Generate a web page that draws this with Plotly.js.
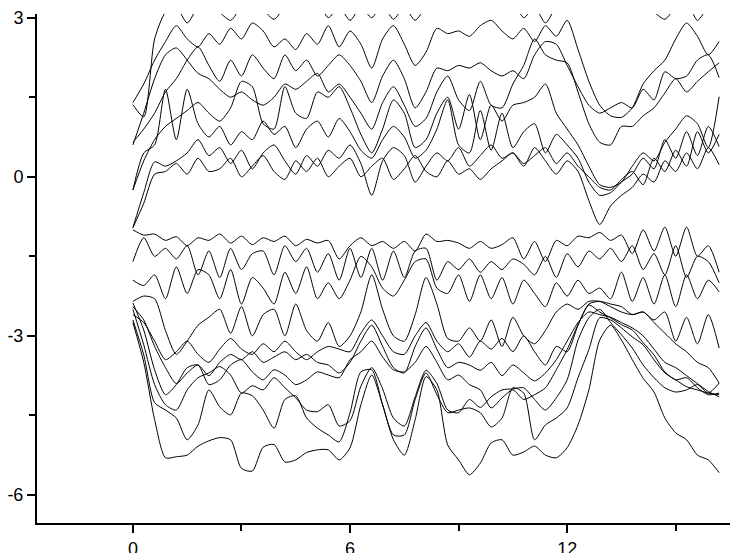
<!DOCTYPE html>
<html>
<head>
<meta charset="utf-8">
<script src="https://cdn.plot.ly/plotly-3.0.1.min.js"></script>
<style>
  html, body { margin: 0; padding: 0; background: white; }
  #chart { width: 755px; height: 553px; }
</style>
</head>
<body>
<div id="chart"></div>
<script>
// ------------------------
// x positions shared by every curve:
var xs = [0,0.3,0.6,0.9,1.2,1.5,1.8,2.1,2.4,2.7,
  3,3.3,3.6,3.9,4.2,4.5,4.8,5.1,5.4,5.7,
  6,6.3,6.6,6.9,7.2,7.5,7.8,8.1,8.4,8.7,
  9,9.3,9.6,9.9,10.2,10.5,10.8,11.1,11.4,11.7,
  12,12.3,12.6,12.9,13.2,13.5,13.8,14.1,14.4,14.7,
  15,15.3,15.6,15.9,16.2];

// ------------------------
// upper bundle of curves:
var u1 = [1.36,1.13,2.6,3.1,3.2,2.9,3.2,3.3,3.1,2.95,
  3.2,3.3,3.15,2.97,3.2,3.3,3.1,3.3,3.0,3.2,
  2.95,3.2,3.0,3.25,2.97,3.2,2.95,3.2,3.3,3.1,
  3.25,3.35,3.2,3.3,3.15,3.3,3.0,3.2,2.9,3.2,
  3.3,3.4,3.5,3.5,3.4,3.4,3.3,3.2,3.1,2.97,
  3.2,3.3,2.95,3.2,3.3];
var u2 = [1.4,1.75,2.2,2.55,2.85,2.6,2.45,2.7,2.5,2.8,
  2.6,2.9,2.75,2.45,2.6,2.4,2.7,2.5,2.85,2.45,
  2.75,2.5,2.05,2.6,2.85,2.5,2.1,2.35,2.8,2.7,
  2.75,2.65,2.85,2.95,2.75,2.6,2.8,2.55,2.85,2.65,
  2.95,2.4,1.8,1.35,1.15,1.12,1.3,1.75,2.0,2.2,
  2.6,2.9,2.65,2.3,2.55];
var u3 = [0.65,0.9,1.2,1.6,1.85,2.2,2.45,2.1,1.8,2.2,
  1.9,2.3,2.05,1.85,2.3,2.0,2.2,1.9,2.1,2.3,
  2.1,1.8,1.4,1.9,2.2,1.85,1.3,1.6,2.05,2.0,
  2.1,2.05,2.15,2.0,1.9,2.0,1.85,2.3,2.55,2.5,
  2.1,1.7,1.35,1.2,1.3,1.4,1.3,1.65,1.45,1.98,
  1.85,1.9,2.2,2.3,1.87];
var u4 = [0.6,1.2,1.85,2.3,2.43,2.2,1.95,1.85,1.65,1.5,
  1.6,1.45,1.35,1.5,1.75,1.65,1.8,1.95,1.6,1.75,
  1.5,1.2,0.9,1.4,1.7,1.35,0.95,1.1,1.6,1.9,
  1.45,1.25,1.8,1.35,1.3,1.75,2.1,2.6,2.3,2.2,
  2.15,1.6,1.0,0.65,0.6,0.95,0.95,1.15,1.3,1.58,
  1.85,1.6,1.8,1.98,2.15];
var u5 = [-0.25,0.3,0.7,0.95,1.1,1.25,1.4,1.2,1.05,1.3,
  1.8,1.7,1.0,0.9,1.7,1.2,1.1,1.6,1.5,1.7,
  1.3,0.8,0.45,0.9,1.45,1.2,0.55,0.7,1.2,1.5,
  0.9,1.55,0.7,1.35,1.05,1.35,1.4,1.5,1.75,1.2,
  0.9,0.6,0.2,-0.15,-0.2,-0.1,0.2,0.45,0.3,0.65,
  0.9,1.15,1.0,0.55,1.51];
var u6 = [-0.25,0.45,0.6,1.65,0.7,1.65,1.0,0.75,0.95,0.6,
  0.85,0.7,1.05,0.8,0.95,0.55,0.9,1.05,0.75,1.1,
  0.85,0.5,0.35,0.7,0.95,0.75,0.35,0.5,0.9,1.45,
  0.6,0.45,1.25,0.5,1.2,0.55,0.85,1.0,0.45,0.8,
  0.6,0.35,-0.1,-0.35,-0.3,-0.1,0.05,0.35,0.15,0.7,
  0.35,0.85,0.4,0.95,0.57];
var u7 = [-0.96,-0.3,0.28,0.2,0.3,0.45,0.7,0.4,0.55,0.25,
  0.5,0.15,0.45,0.6,0.3,0.05,0.4,0.2,0.5,0.35,
  0.6,0.25,-0.35,0.3,0.55,0.4,-0.1,0.2,0.45,0.3,
  0.55,0.2,0.4,0.6,0.35,0.45,0.2,0.55,0.3,0.05,
  0.3,0.1,-0.45,-0.9,-0.55,-0.35,-0.2,0.05,-0.1,0.3,
  0.1,0.45,0.15,0.55,0.23];
var u8 = [-0.96,-0.5,0.05,0.1,0.25,0.05,0.35,0.1,0.15,0.35,
  0.0,0.2,0.4,0.1,-0.05,0.3,0.1,0.35,0.0,0.2,
  0.35,0.0,0.2,0.35,-0.05,0.15,0.4,0.1,0.0,0.3,
  0.05,0.15,-0.05,0.15,0.3,0.45,0.25,0.4,0.55,0.25,
  0.45,0.2,0.0,-0.2,-0.25,-0.05,0.1,-0.15,0.35,0.1,
  0.5,0.2,0.85,0.45,0.8];

// ------------------------
// lower bundle of curves:
var l1 = [-1.0,-1.1,-1.08,-1.2,-1.13,-1.3,-1.15,-1.2,-1.08,-1.25,
  -1.12,-1.28,-1.15,-1.22,-1.12,-1.3,-1.18,-1.25,-1.2,-1.55,
  -1.3,-1.15,-1.3,-1.22,-1.35,-1.22,-1.4,-1.08,-1.22,-1.2,
  -1.25,-1.35,-1.22,-1.35,-1.28,-1.15,-1.55,-1.22,-1.6,-1.2,
  -1.3,-1.12,-1.15,-1.05,-1.2,-1.1,-1.45,-1.0,-1.4,-0.95,
  -1.5,-0.95,-1.5,-1.3,-1.8];
var l2 = [-1.6,-1.15,-1.5,-1.35,-1.55,-1.3,-1.85,-1.4,-1.9,-1.35,
  -1.75,-1.45,-1.4,-1.85,-1.3,-1.6,-1.35,-1.8,-1.45,-1.95,
  -1.35,-1.9,-1.35,-1.95,-1.4,-1.9,-1.4,-1.35,-1.95,-1.6,
  -1.75,-1.55,-1.8,-1.6,-1.75,-1.55,-1.65,-1.85,-1.5,-1.9,
  -1.45,-1.7,-1.4,-1.55,-1.35,-1.6,-1.3,-1.75,-1.45,-1.85,
  -1.3,-1.9,-1.5,-1.6,-2.0];
var l3 = [-1.95,-2.05,-1.85,-2.3,-1.7,-2.2,-1.75,-1.85,-2.3,-1.75,
  -2.4,-1.9,-2.1,-2.4,-1.8,-2.2,-1.7,-2.3,-2.0,-2.3,
  -1.95,-1.5,-1.7,-2.1,-2.25,-1.95,-1.6,-1.55,-2.1,-2.2,
  -1.85,-2.35,-1.85,-2.3,-1.9,-2.4,-1.95,-2.2,-2.45,-2.0,
  -2.25,-1.95,-2.2,-2.1,-2.3,-1.8,-2.35,-1.9,-2.4,-1.85,
  -2.45,-1.85,-2.3,-1.95,-2.17];
var l4 = [-2.35,-2.25,-2.3,-2.9,-3.35,-3.1,-2.8,-2.65,-2.5,-2.95,
  -2.45,-3.0,-2.6,-2.5,-3.0,-2.4,-2.9,-3.1,-2.75,-3.2,
  -3.0,-2.55,-1.85,-2.5,-3.0,-3.1,-2.6,-1.9,-2.4,-3.05,
  -3.1,-2.85,-3.1,-2.7,-3.2,-2.65,-3.0,-3.15,-2.9,-2.55,
  -2.4,-2.5,-2.35,-2.35,-2.45,-2.55,-2.6,-2.55,-2.7,-2.55,
  -3.1,-2.65,-3.15,-2.6,-3.23];
var l5 = [-2.6,-2.75,-3.1,-3.45,-3.3,-3.1,-3.35,-3.5,-3.25,-3.05,
  -3.25,-3.35,-3.15,-3.3,-3.1,-3.3,-3.45,-3.3,-3.2,-3.25,
  -3.3,-2.95,-2.7,-3.0,-3.3,-3.35,-3.0,-2.75,-3.1,-3.3,
  -3.15,-3.4,-3.1,-3.25,-3.05,-3.3,-3.0,-3.3,-3.55,-3.2,
  -3.3,-2.8,-2.4,-2.35,-2.4,-2.45,-2.6,-2.55,-2.75,-2.95,
  -3.15,-3.3,-3.5,-3.6,-3.89];
var l6 = [-2.45,-2.7,-3.2,-3.6,-3.9,-3.7,-3.55,-3.75,-3.5,-3.35,
  -3.45,-3.3,-3.5,-3.4,-3.3,-3.45,-3.35,-3.5,-3.55,-3.7,
  -3.5,-3.1,-2.8,-3.2,-3.6,-3.7,-3.2,-2.85,-3.25,-3.6,
  -3.5,-3.55,-3.65,-3.5,-3.75,-3.55,-3.7,-3.85,-3.7,-3.45,
  -3.1,-2.75,-2.55,-2.6,-2.65,-2.75,-2.85,-3.0,-3.25,-3.5,
  -3.6,-3.75,-3.9,-4.05,-4.15];
var l7 = [-2.38,-2.89,-3.64,-4.11,-3.92,-3.6,-3.55,-3.92,-3.83,-3.55,
  -3.45,-3.68,-3.83,-3.64,-3.74,-3.92,-3.83,-3.68,-3.74,-3.79,
  -3.45,-3.3,-3.1,-3.4,-3.64,-3.68,-3.5,-3.2,-3.5,-3.83,
  -3.74,-3.92,-4.02,-4.36,-4.17,-4.02,-4.2,-4.11,-3.98,-3.64,
  -3.26,-2.79,-2.42,-2.55,-2.66,-2.79,-2.89,-3.13,-3.36,-3.68,
  -3.83,-3.79,-3.98,-4.11,-4.08];
var l8 = [-2.5,-3.17,-3.92,-4.3,-4.4,-4.02,-3.79,-3.7,-3.58,-3.74,
  -4.08,-3.94,-4.02,-3.79,-3.98,-4.17,-4.4,-4.43,-4.3,-4.7,
  -4.6,-3.95,-3.6,-4.0,-4.55,-4.7,-4.15,-3.65,-3.9,-4.4,
  -4.45,-4.2,-4.35,-4.15,-4.02,-4.0,-3.98,-4.2,-4.4,-4.17,
  -3.83,-3.08,-2.66,-2.5,-2.75,-2.98,-3.23,-3.55,-3.79,-3.98,
  -4.06,-4.02,-3.92,-4.08,-3.89];
var l9 = [-2.7,-3.36,-4.26,-4.4,-4.55,-4.96,-4.68,-4.02,-4.34,-4.49,
  -4.08,-4.13,-4.4,-4.74,-4.2,-4.13,-4.55,-4.74,-4.87,-5.0,
  -4.45,-3.68,-3.64,-4.3,-4.87,-4.87,-4.2,-3.7,-4.11,-4.45,
  -4.4,-4.36,-4.45,-4.72,-4.55,-3.98,-4.08,-4.96,-4.68,-4.55,
  -4.36,-3.79,-3.26,-2.66,-2.7,-2.85,-3.02,-3.17,-3.45,-3.7,
  -3.83,-3.96,-4.02,-4.08,-4.11];
var l10 = [-2.75,-3.5,-4.58,-5.3,-5.28,-5.25,-5.08,-4.98,-4.92,-4.96,
  -5.5,-5.55,-5.1,-5.05,-5.38,-5.34,-5.2,-5.15,-5.15,-5.34,
  -5.11,-4.3,-3.74,-4.3,-4.96,-5.25,-4.58,-3.77,-4.02,-5.06,
  -5.34,-5.62,-5.4,-5.02,-4.96,-5.25,-5.19,-5.08,-5.25,-5.3,
  -5.11,-4.68,-4.02,-3.08,-2.8,-3.08,-3.45,-3.8,-4.06,-4.55,
  -4.83,-4.96,-5.25,-5.34,-5.58];

// ------------------------
// tick labels:
var xTickVals = [0, 6, 12];
var xTickText = ["0", "6", "12"];
var yTickVals = [3, 0, -3, -6];
var yTickText = ["3", "0", "-3", "-6"];

// ------------------------
// one black line per curve:
var curves = [u1, u2, u3, u4, u5, u6, u7, u8, l1, l2, l3, l4, l5, l6, l7, l8, l9, l10];
var data = curves.map(ys => ({
  x: xs,
  y: ys,
  type: "scatter",
  mode: "lines",
  line: {color: "black", width: 1, shape: "spline", smoothing: 0.7},
  hoverinfo: "skip"
}));

var axisFont = {family: "Liberation Sans, Arial, sans-serif", size: 18, color: "black"};

var layout = {
  width: 755,
  height: 553,
  margin: {l: 37, r: 25, t: 14, b: 30},
  paper_bgcolor: "white",
  plot_bgcolor: "white",
  showlegend: false,
  xaxis: {
    range: [-2.65, 16.5],
    tickmode: "array", tickvals: xTickVals, ticktext: xTickText,
    ticks: "outside", ticklen: 8, tickwidth: 2, tickcolor: "black",
    tickfont: axisFont,
    showline: true, linewidth: 2, linecolor: "black",
    showgrid: false, zeroline: false, automargin: false,
    minor: {tickmode: "linear", tick0: 3, dtick: 6, ticks: "outside", ticklen: 6, tickwidth: 2, tickcolor: "black", showgrid: false}
  },
  yaxis: {
    range: [-6.53, 3.07],
    tickmode: "array", tickvals: yTickVals, ticktext: yTickText,
    ticks: "outside", ticklen: 8, tickwidth: 2, tickcolor: "black",
    tickfont: axisFont,
    showline: true, linewidth: 2, linecolor: "black",
    showgrid: false, zeroline: false, automargin: false,
    minor: {tickmode: "linear", tick0: 1.5, dtick: 3, ticks: "outside", ticklen: 6, tickwidth: 2, tickcolor: "black", showgrid: false}
  }
};

Plotly.newPlot("chart", data, layout, {displayModeBar: false, staticPlot: true});
</script>
</body>
</html>
